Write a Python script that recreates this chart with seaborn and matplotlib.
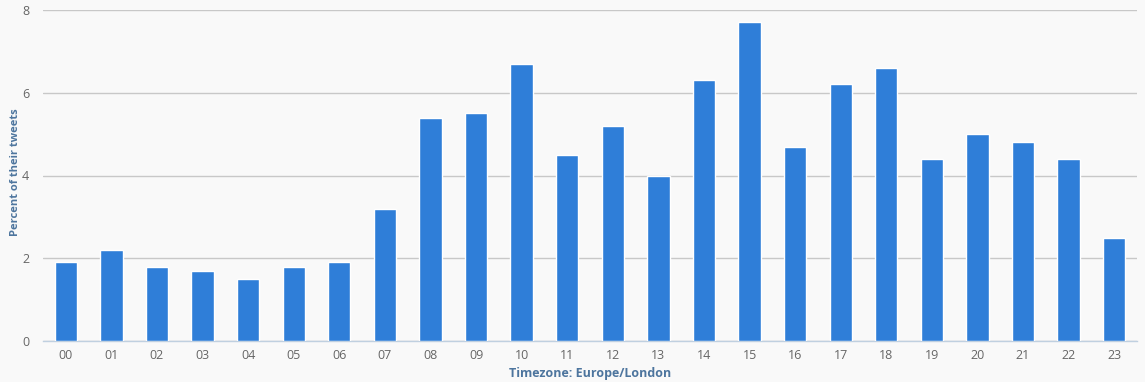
import matplotlib
matplotlib.use("Agg")
import matplotlib.pyplot as plt
import seaborn as sns
import pandas as pd
import numpy as np

hours = ["00", "01", "02", "03", "04", "05", "06", "07", "08", "09", "10", "11",
         "12", "13", "14", "15", "16", "17", "18", "19", "20", "21", "22", "23"]
percent = [1.9, 2.2, 1.8, 1.7, 1.5, 1.8, 1.9, 3.2, 5.4, 5.5, 6.7, 4.5,
           5.2, 4.0, 6.3, 7.7, 4.7, 6.2, 6.6, 4.4, 5.0, 4.8, 4.4, 2.5]
y_ticks = [0, 2, 4, 6, 8]

sns.set_theme(style="white")
plt.rcParams['font.family'] = ['Open Sans', 'DejaVu Sans']

df = pd.DataFrame({"hour": hours, "percent": percent})

bg = "#f9f9f9"
fig = plt.figure(figsize=(11.45, 3.82), dpi=100, facecolor=bg)
ax = fig.add_axes([43/1145, 1 - 341/382, (1137-43)/1145, (341-10)/382])
ax.set_facecolor(bg)

sns.barplot(data=df, x="hour", y="percent", color="#2f7ed8", width=0.49,
            saturation=1, ax=ax, zorder=3)

ax.set_xlim(-0.5, len(hours) - 0.5)
ax.set_ylim(0, 8)
ax.set_yticks(y_ticks)
ax.set_yticklabels([str(t) for t in y_ticks])
ax.yaxis.grid(True, color="#c8c8c8", linewidth=1, zorder=0)
ax.set_axisbelow(True)

for s in ["top", "right", "left"]:
    ax.spines[s].set_visible(False)
ax.spines["bottom"].set_color("#c0d0e0")
ax.spines["bottom"].set_linewidth(1)

ax.tick_params(axis="y", length=0, pad=10, labelsize=9, labelcolor="#666666")
ax.tick_params(axis="x", which="major", length=0, pad=6, labelsize=9, labelcolor="#666666")
ax.set_xticks(np.arange(-0.5, len(hours) + 0.5, 1), minor=True)
ax.tick_params(axis="x", which="minor", length=5, color="#c0d0e0", width=1)

ax.set_xlabel("Timezone: Europe/London", fontsize=9, fontweight="bold",
              color="#4d759e", labelpad=3)
ax.set_ylabel("Percent of their tweets", fontsize=8, fontweight="bold",
              color="#4d759e")
ax.yaxis.set_label_coords(-0.020, 0.51)

fig.savefig("out.png", dpi=100, facecolor=bg)
